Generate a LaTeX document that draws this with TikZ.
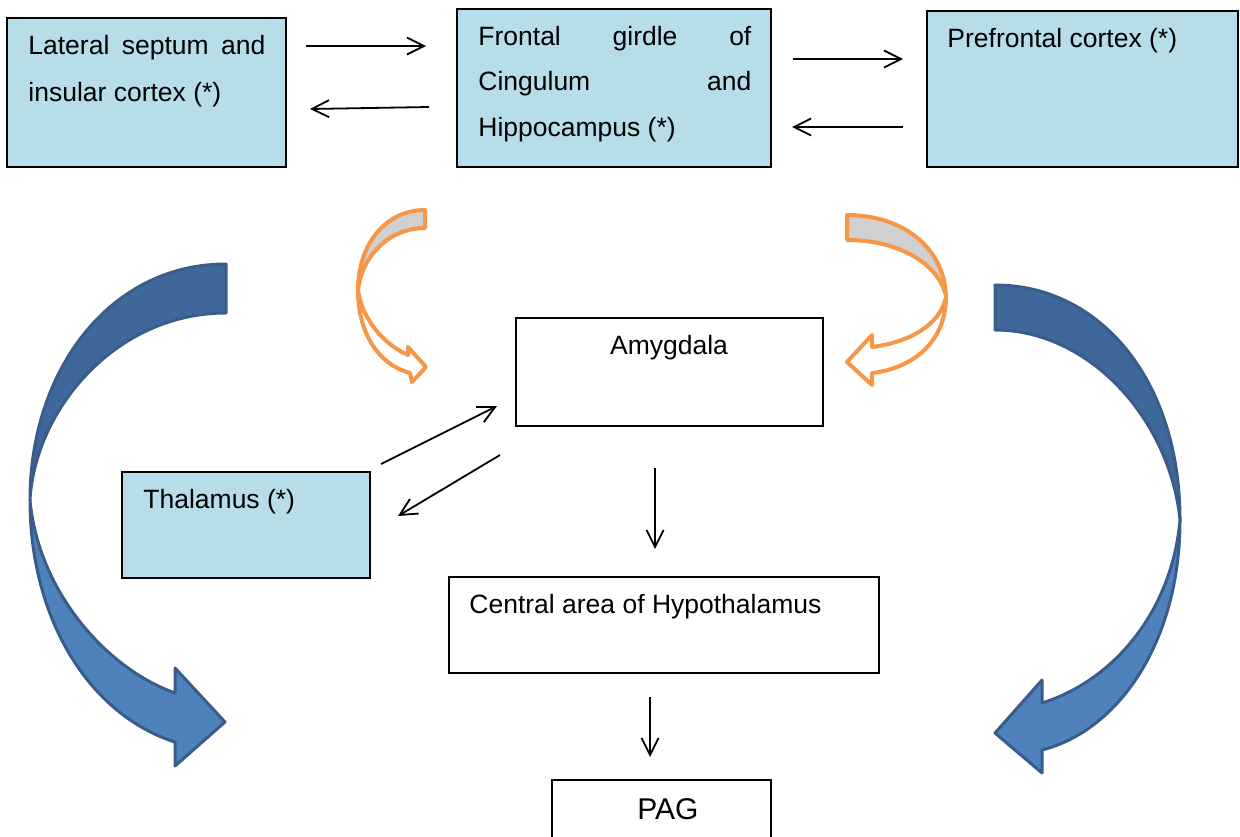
\documentclass[tikz,border=0pt]{standalone}
\usepackage{fontspec}
\setmainfont{Liberation Sans}
\usetikzlibrary{arrows.meta}
\definecolor{boxblue}{HTML}{B7DDE8}
\definecolor{bandback}{HTML}{406799}
\definecolor{bandfront}{HTML}{4F81BD}
\definecolor{bandedge}{HTML}{385D8A}
\definecolor{ringorange}{HTML}{F79646}
\definecolor{ringgray}{HTML}{D0D0D0}
\begin{document}
\begin{tikzpicture}[x=0.5pt,y=-0.5pt,
  region/.style={draw=black, line width=0.6pt, inner sep=0pt, outer sep=0pt},
  bluebox/.style={region, fill=boxblue},
  whitebox/.style={region, fill=white},
  txt/.style={anchor=base west, inner sep=0pt, font=\fontsize{13.25pt}{16pt}\selectfont},
  link/.style={line width=0.9pt, -{Straight Barb[length=8.5pt,width=8.5pt,line width=0.9pt]}},
  bigback/.style={fill=bandback, draw=bandedge, line width=1.5pt, line join=round},
  bigfront/.style={fill=bandfront, draw=bandedge, line width=1.5pt, line join=round},
  ringback/.style={fill=ringgray, draw=ringorange, line width=2pt, line join=round},
  ringfront/.style={fill=white, draw=ringorange, line width=2pt, line join=round}]
\clip (0,0) rectangle (1240,836);

% boxes
\node[bluebox, minimum width=139.5pt, minimum height=74.5pt] (lat) at (146.5,92.5) {};
\node[bluebox, minimum width=157pt, minimum height=79pt] (cing) at (614,88) {};
\node[bluebox, minimum width=155.5pt, minimum height=78pt] (pref) at (1082.5,89) {};
\node[whitebox, minimum width=153.5pt, minimum height=54pt] (amyg) at (669.5,372) {};
\node[bluebox, minimum width=124pt, minimum height=53pt] (thal) at (246,525) {};
\node[whitebox, minimum width=215pt, minimum height=48pt] (hypo) at (664,625) {};
\node[whitebox, minimum width=109.5pt, minimum height=35pt] (pag) at (661.5,815) {};

% box texts
\node[txt] (latA) at (28,54) {\makebox[118.5pt][s]{Lateral septum and}};
\node[txt] (latB) at (28,101) {insular cortex (*)};
\node[txt] (cingA) at (478,45) {\makebox[136.5pt][s]{Frontal girdle of}};
\node[txt] (cingB) at (478,90) {\makebox[136.5pt][s]{Cingulum and}};
\node[txt] (cingC) at (478,136) {Hippocampus (*)};
\node[txt] (prefA) at (947,47) {Prefrontal cortex (*)};
\node[txt, anchor=base] (amygA) at (669,354) {Amygdala};
\node[txt] (thalA) at (143,508) {Thalamus (*)};
\node[txt] (hypoA) at (469,613) {Central area of Hypothalamus};
\node[txt, anchor=base, font=\fontsize{15pt}{18pt}\selectfont] (pagA) at (668,819) {PAG};

% arrow end points
\coordinate (a1s) at (306,46);  \coordinate (a1e) at (426,46);
\coordinate (a2s) at (429,107); \coordinate (a2e) at (310,109);
\coordinate (a3s) at (793,59);  \coordinate (a3e) at (903,59);
\coordinate (a4s) at (903,127); \coordinate (a4e) at (792,127);
\coordinate (a5s) at (381,464); \coordinate (a5e) at (497,406);
\coordinate (a6s) at (500,455); \coordinate (a6e) at (398,516);
\coordinate (a7s) at (655,468); \coordinate (a7e) at (655,549);
\coordinate (a8s) at (650,697); \coordinate (a8e) at (650,757);

\draw[link] (a1s) -- (a1e);
\draw[link] (a2s) -- (a2e);
\draw[link] (a3s) -- (a3e);
\draw[link] (a4s) -- (a4e);
\draw[link] (a5s) -- (a5e);
\draw[link] (a6s) -- (a6e);
\draw[link] (a7s) -- (a7e);
\draw[link] (a8s) -- (a8e);

% large blue curved arrow, left
\path[bigback] (226,264) .. controls (110,264) and (30,370) .. (30,500)
  .. controls (35,410) and (115,313) .. (226,313) -- cycle;
\path[bigfront] (30,500) .. controls (30,620) and (90,715) .. (175,742)
  -- (175,766) -- (225,722) -- (175,668) -- (175,693)
  .. controls (105,668) and (38,590) .. (30,500) -- cycle;

% large blue curved arrow, right
\path[bigback] (995,285) .. controls (1100,285) and (1180,380) .. (1180,520)
  .. controls (1170,420) and (1090,330) .. (995,330) -- cycle;
\path[bigfront] (1180,520) .. controls (1180,640) and (1120,730) .. (1042,750)
  -- (1042,773) -- (995,733) -- (1042,680) -- (1042,703)
  .. controls (1115,680) and (1172,610) .. (1180,520) -- cycle;

% small orange curved arrow, left
\path[ringback] (425,210) .. controls (385,210) and (358,245) .. (358,290)
  .. controls (362,255) and (390,228) .. (425,228) -- cycle;
\path[ringfront] (358,290) .. controls (358,335) and (380,365) .. (410,373)
  -- (412,382) -- (426,367) -- (408,347) -- (408,355)
  .. controls (385,345) and (362,320) .. (358,290) -- cycle;

% small orange curved arrow, right
\path[ringback] (847,215) .. controls (905,215) and (945,250) .. (946,297)
  .. controls (940,265) and (900,240) .. (847,240) -- cycle;
\path[ringfront] (946,297) .. controls (946,340) and (915,368) .. (872,373)
  -- (872,385) -- (847,362) -- (872,335) -- (872,347)
  .. controls (910,342) and (940,325) .. (946,297) -- cycle;
\end{tikzpicture}
\end{document}
